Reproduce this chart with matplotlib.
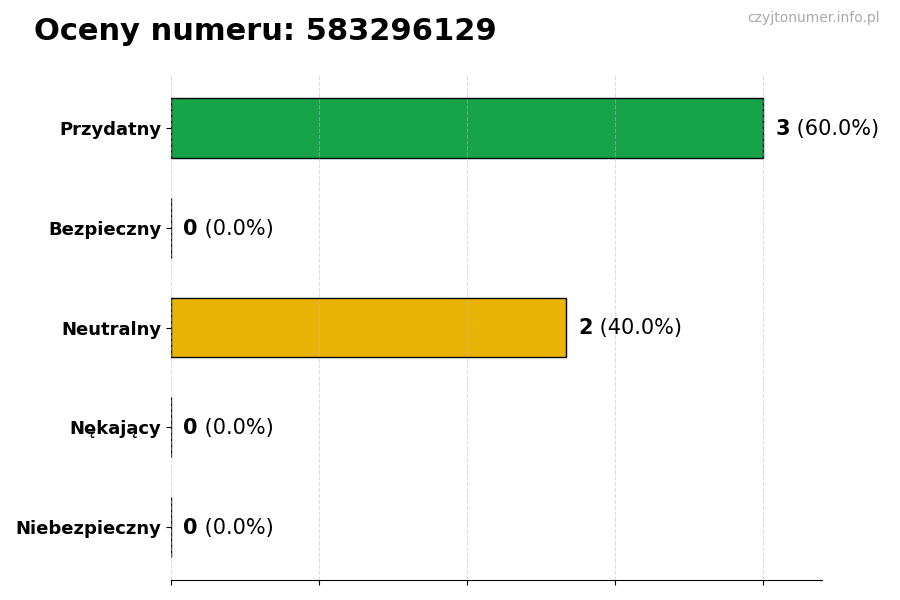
import matplotlib
matplotlib.use("Agg")
import matplotlib.pyplot as plt

categories = ["Przydatny", "Bezpieczny", "Neutralny", "Nękający", "Niebezpieczny"]
counts = [3, 0, 2, 0, 0]
colors = ["#16a34a", "#16a34a", "#eab308", "#dc2626", "#b91c1c"]
title = "Oceny numeru: 583296129"
watermark = "czyjtonumer.info.pl"

total = sum(counts)

fig = plt.figure(figsize=(9, 6), dpi=100)
ax = fig.add_axes([0.19, 0.0333, 0.7233, 0.8417])

ypos = list(range(len(categories)))
ax.barh(ypos, counts, height=0.6, color=colors, edgecolor="black", linewidth=1, zorder=2)
ax.set_yticks(ypos)
ax.set_yticklabels(categories, fontsize=13, fontweight="bold")
ax.invert_yaxis()

xmax = max(counts) * 1.1
ax.set_xlim(0, xmax)
ax.set_xticks([max(counts) * i / 4 for i in range(5)])
ax.set_xticklabels([])
ax.grid(axis="x", linestyle="--", color="#bbbbbb", alpha=0.5, linewidth=0.8, zorder=3)
ax.set_axisbelow(False)
for s in ["top", "right", "left"]:
    ax.spines[s].set_visible(False)

for y, c in zip(ypos, counts):
    pct = 100.0 * c / total if total else 0
    t = ax.annotate(str(c), xy=(c, y), xytext=(9, -0.7), textcoords="offset points",
                    va="center", ha="left", fontsize=15, fontweight="bold")
    ax.annotate(f" ({pct:.1f}%)", xy=(1, 0.5), xycoords=t, va="center", ha="left",
                fontsize=15)

fig.text(0.038, 0.948, title, fontsize=22, fontweight="bold", va="center", ha="left")
fig.text(0.978, 0.97, watermark, fontsize=10, color="#aaaaaa", va="center", ha="right")

fig.savefig("out.png", dpi=100)
